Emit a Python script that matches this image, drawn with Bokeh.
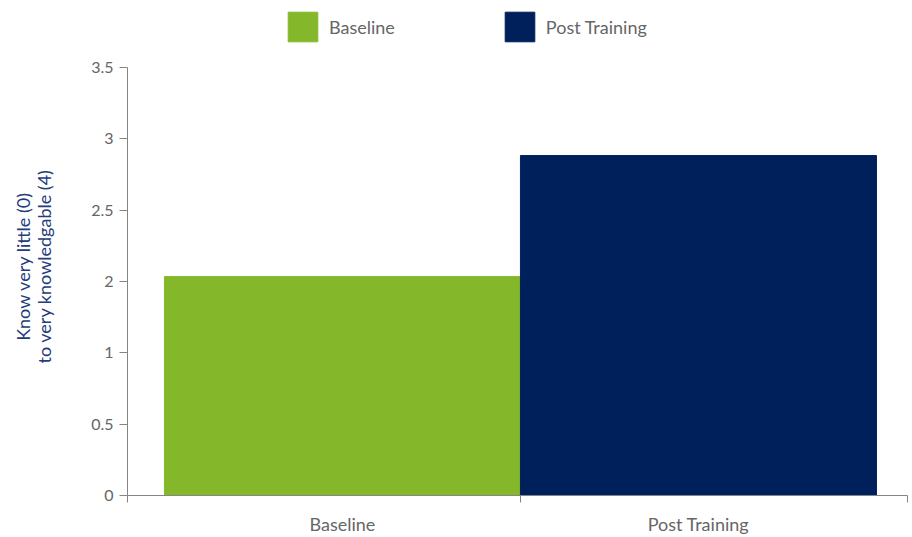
import math
from bokeh.plotting import figure
from bokeh.layouts import column, row
from bokeh.models import FixedTicker, Range1d, Legend, LegendItem, ColumnDataSource
from bokeh.core.properties import value
from bokeh.embed import file_html
from bokeh.resources import INLINE

# ---- data ----
categories = ["Baseline", "Post Training"]
# bar heights in axis units (axis spans 0..3.5 with seven evenly spaced labels)
values = [1.79, 2.78]
y_tick_labels = ["0", "0.5", "1", "2", "2.5", "3", "3.5"]
colors = ["#84b82a", "#00205b"]
y_title = "Know very little (0)\nto very knowledgable (4)"

Y_MAX = 3.5
X_END = 1.985          # axis is cut slightly short on the right
BAR_W = 0.906
OFFSET = 0.047

FONT = "Lato"
GREY_TXT = "#666666"
AXIS_COL = "#858585"
TITLE_COL = "#243c7c"

n = len(categories)
centers = [i + 0.5 + (OFFSET if i == 0 else -OFFSET) for i in range(n)]
src = ColumnDataSource(dict(x=centers, top=values, cat=categories, color=colors))

# ---------------- main chart ----------------
LBL_W = 60
p = figure(
    width=852, height=480,
    x_range=Range1d(0, X_END), y_range=Range1d(0, Y_MAX),
    output_backend="svg", toolbar_location=None,
    min_border_left=127 - LBL_W, min_border_right=5, min_border_top=10, min_border_bottom=42,
)
p.outline_line_color = None
p.grid.grid_line_color = None
p.border_fill_color = "white"

r = p.vbar(x="x", top="top", width=BAR_W, bottom=0, color="color", source=src)

yticks = [i * Y_MAX / (len(y_tick_labels) - 1) for i in range(len(y_tick_labels))]
p.yaxis.ticker = FixedTicker(ticks=yticks)
p.yaxis.major_label_overrides = {t: l for t, l in zip(yticks, y_tick_labels)}
p.yaxis.major_tick_in = 0
p.yaxis.major_tick_out = 8
p.yaxis.minor_tick_line_color = None
p.yaxis.axis_line_color = AXIS_COL
p.yaxis.major_tick_line_color = AXIS_COL
p.yaxis.major_label_text_font = FONT
p.yaxis.major_label_text_font_size = "16px"
p.yaxis.major_label_text_color = GREY_TXT
p.yaxis.major_label_standoff = 6

p.xaxis.ticker = FixedTicker(ticks=centers, minor_ticks=[0.0, 1.0, X_END])
p.xaxis.major_label_overrides = {c: l for c, l in zip(centers, categories)}
p.xaxis.major_tick_in = 0
p.xaxis.major_tick_out = 0
p.xaxis.minor_tick_in = 0
p.xaxis.minor_tick_out = 7
p.xaxis.minor_tick_line_color = AXIS_COL
p.xaxis.axis_line_color = AXIS_COL
p.xaxis.major_label_text_font = FONT
p.xaxis.major_label_text_font_size = "18px"
p.xaxis.major_label_text_color = GREY_TXT
p.xaxis.major_label_standoff = 10

# ---------------- y-axis title strip ----------------
yl = figure(width=LBL_W, height=480, x_range=Range1d(0, LBL_W), y_range=Range1d(0, 480),
            x_axis_type=None, y_axis_type=None, output_backend="svg", toolbar_location=None,
            min_border=0)
yl.outline_line_color = None
yl.grid.grid_line_color = None
yl.text(x=[33], y=[257], text=[y_title], angle=math.pi / 2,
        text_align="center", text_baseline="middle",
        text_font=value(FONT), text_font_size="18px", text_color=TITLE_COL,
        text_line_height=0.95)

# ---------------- legend strip ----------------
lg = figure(width=912, height=57, x_range=Range1d(0, 1), y_range=Range1d(100, 101),
            x_axis_type=None, y_axis_type=None, output_backend="svg", toolbar_location=None,
            min_border=0)
lg.outline_line_color = None
lg.grid.grid_line_color = None
lr = lg.vbar(x="x", top="top", width=BAR_W, bottom=0, color="color", source=src)
items = [LegendItem(label=c, renderers=[lr], index=i) for i, c in enumerate(categories)]
legend = Legend(items=items, orientation="horizontal", location=(284, 12),
                glyph_width=37, glyph_height=37, spacing=106, padding=0, margin=0,
                label_text_font=FONT, label_text_font_size="18px",
                label_text_color=GREY_TXT, label_standoff=8,
                border_line_color=None, background_fill_alpha=0)
lg.add_layout(legend, "center")

layout = column(lg, row(yl, p))
open("out.html", "w").write(file_html(layout, INLINE))
